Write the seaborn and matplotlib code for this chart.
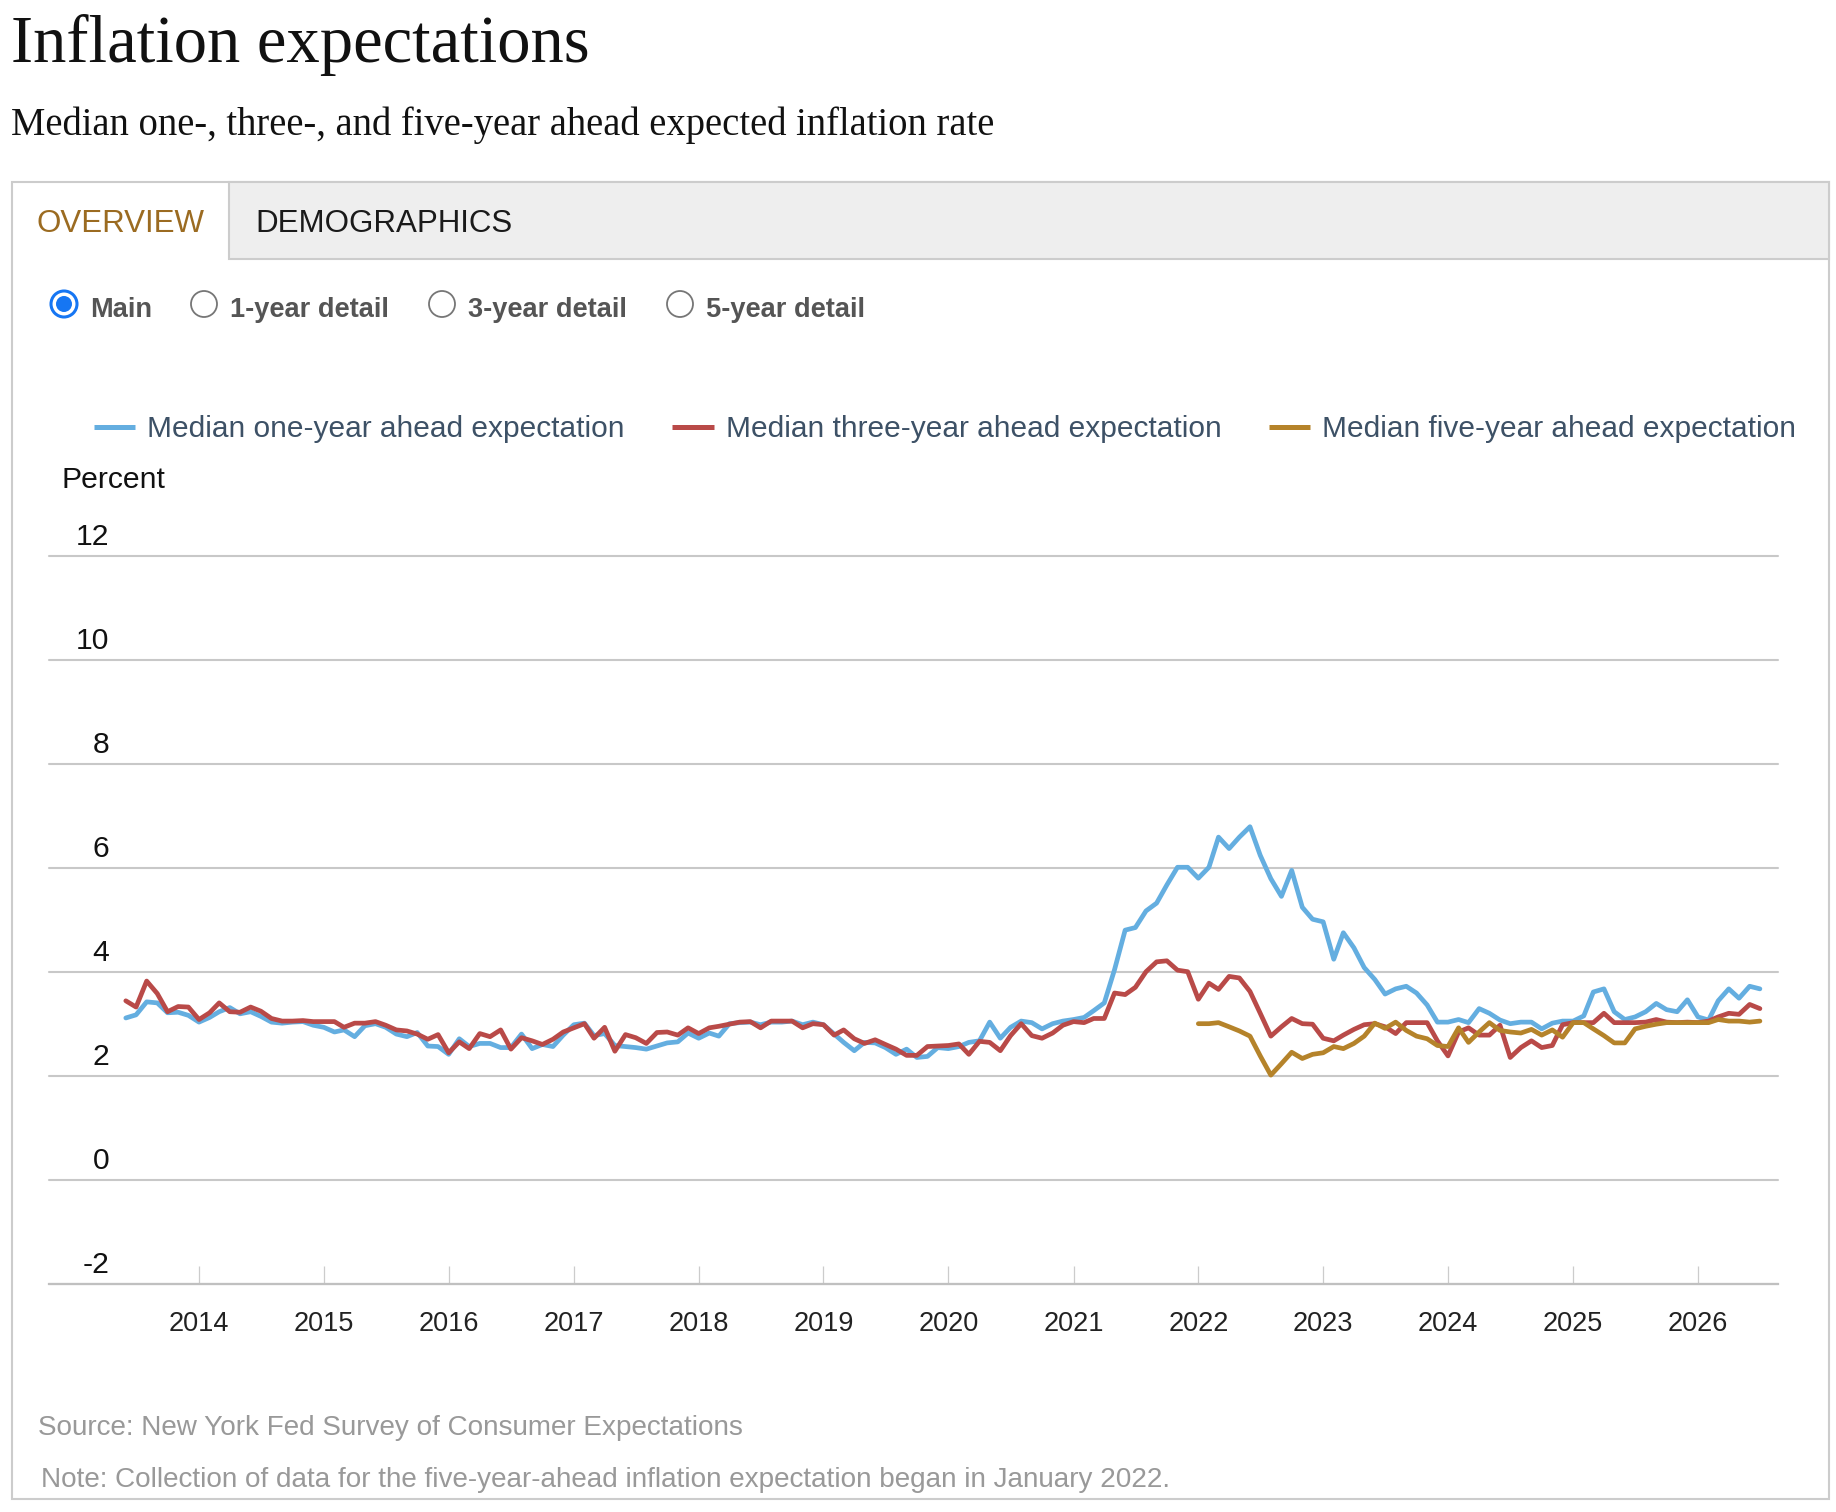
import matplotlib.dates as mdates
import matplotlib.pyplot as plt
import pandas as pd
import seaborn as sns
from matplotlib.patches import Circle, Rectangle

# monthly medians, June 2013 .. July 2026
START_MONTH = "2013-06-01"
one_year = [
    3.11, 3.17, 3.42, 3.40, 3.21, 3.22, 3.16, 3.03, 3.12, 3.23, 3.31, 3.19,
    3.23, 3.14, 3.03, 3.01, 3.03, 3.04, 2.97, 2.93, 2.84, 2.88, 2.75, 2.96,
    3.00, 2.93, 2.80, 2.75, 2.83, 2.57, 2.56, 2.41, 2.71, 2.56, 2.62, 2.62,
    2.54, 2.54, 2.80, 2.52, 2.60, 2.56, 2.78, 2.98, 3.01, 2.77, 2.81, 2.58,
    2.56, 2.54, 2.51, 2.57, 2.63, 2.65, 2.82, 2.72, 2.82, 2.76, 3.00, 3.02,
    3.03, 2.98, 3.03, 3.03, 3.05, 2.98, 3.03, 2.98, 2.80, 2.64, 2.48, 2.64,
    2.63, 2.54, 2.41, 2.51, 2.35, 2.37, 2.54, 2.52, 2.56, 2.64, 2.67, 3.03,
    2.72, 2.93, 3.05, 3.02, 2.90, 3.00, 3.05, 3.08, 3.12, 3.25, 3.40, 4.04,
    4.80, 4.85, 5.17, 5.32, 5.67, 6.01, 6.01, 5.80, 6.01, 6.59, 6.37, 6.59,
    6.79, 6.24, 5.79, 5.45, 5.95, 5.24, 5.01, 4.96, 4.24, 4.75, 4.46, 4.08,
    3.85, 3.57, 3.67, 3.72, 3.59, 3.36, 3.03, 3.03, 3.08, 3.02, 3.29, 3.20,
    3.07, 3.00, 3.03, 3.03, 2.90, 3.01, 3.05, 3.05, 3.15, 3.61, 3.67, 3.23,
    3.08, 3.13, 3.23, 3.39, 3.27, 3.23, 3.46, 3.13, 3.07, 3.44, 3.67, 3.49,
    3.72, 3.67,
]
three_year = [
    3.44, 3.32, 3.82, 3.58, 3.23, 3.33, 3.32, 3.08, 3.21, 3.40, 3.23, 3.22,
    3.32, 3.24, 3.10, 3.05, 3.05, 3.06, 3.04, 3.04, 3.04, 2.93, 3.01, 3.01,
    3.04, 2.97, 2.88, 2.86, 2.80, 2.70, 2.79, 2.44, 2.65, 2.52, 2.81, 2.75,
    2.88, 2.51, 2.73, 2.67, 2.60, 2.70, 2.84, 2.92, 3.00, 2.72, 2.93, 2.47,
    2.79, 2.73, 2.62, 2.83, 2.84, 2.78, 2.92, 2.81, 2.92, 2.95, 2.99, 3.03,
    3.04, 2.92, 3.05, 3.05, 3.05, 2.92, 3.00, 2.98, 2.78, 2.88, 2.71, 2.62,
    2.69, 2.60, 2.51, 2.39, 2.39, 2.56, 2.57, 2.58, 2.61, 2.41, 2.66, 2.64,
    2.48, 2.77, 3.00, 2.77, 2.72, 2.82, 2.97, 3.04, 3.02, 3.10, 3.10, 3.59,
    3.56, 3.70, 4.00, 4.19, 4.21, 4.03, 4.00, 3.47, 3.78, 3.66, 3.91, 3.88,
    3.62, 3.20, 2.76, 2.94, 3.10, 3.00, 2.99, 2.72, 2.67, 2.78, 2.89, 2.98,
    3.00, 2.94, 2.81, 3.02, 3.02, 3.02, 2.67, 2.38, 2.84, 2.92, 2.78, 2.78,
    2.97, 2.35, 2.54, 2.67, 2.54, 2.58, 2.98, 3.02, 3.02, 3.02, 3.20, 3.02,
    3.02, 3.02, 3.03, 3.08, 3.03, 3.02, 3.03, 3.02, 3.05, 3.13, 3.20, 3.18,
    3.37, 3.29,
]
# five-year series starts January 2022
FIVE_START = "2022-01-01"
five_year = [
    3.00, 3.00, 3.02, 2.94, 2.86, 2.76, 2.38, 2.01, 2.23, 2.45, 2.33, 2.41,
    2.44, 2.56, 2.52, 2.62, 2.76, 3.01, 2.91, 3.03, 2.87, 2.76, 2.71, 2.58,
    2.56, 2.92, 2.64, 2.84, 3.02, 2.87, 2.84, 2.82, 2.89, 2.78, 2.88, 2.74,
    3.02, 3.02, 2.90, 2.77, 2.63, 2.63, 2.90, 2.95, 2.99, 3.02, 3.02, 3.02,
    3.02, 3.02, 3.08, 3.05, 3.05, 3.03, 3.05,
]

series_names = [
    "Median one-year ahead expectation",
    "Median three-year ahead expectation",
    "Median five-year ahead expectation",
]
colors = ["#64aee0", "#b94a48", "#b5832a"]
y_ticks = [-2, 0, 2, 4, 6, 8, 10, 12]
x_years = list(range(2014, 2027))
radio_labels = ["Main", "1-year detail", "3-year detail", "5-year detail"]

W, H = 1836, 1512


def main() -> None:
    months = pd.date_range(START_MONTH, periods=len(one_year), freq="MS")
    five_months = pd.date_range(FIVE_START, periods=len(five_year), freq="MS")
    df = pd.concat(
        [
            pd.DataFrame({"date": months, "value": one_year, "series": series_names[0]}),
            pd.DataFrame({"date": months, "value": three_year, "series": series_names[1]}),
            pd.DataFrame({"date": five_months, "value": five_year, "series": series_names[2]}),
        ],
        ignore_index=True,
    )

    sns.set_theme(style="white")
    plt.rcParams["font.family"] = ["Liberation Sans", "DejaVu Sans"]

    fig = plt.figure(figsize=(W / 100, H / 100), dpi=100)

    # page layer in pixel coordinates
    bg = fig.add_axes([0, 0, 1, 1])
    bg.set_xlim(0, W)
    bg.set_ylim(H, 0)
    bg.axis("off")

    serif = ["Liberation Serif", "DejaVu Serif"]
    bg.text(11, 62, "Inflation expectations", family=serif, fontsize=48, color="#111111", va="baseline")
    bg.text(11, 135, "Median one-, three-, and five-year ahead expected inflation rate",
            family=serif, fontsize=27.8, color="#111111", va="baseline")

    bg.add_patch(Rectangle((12, 182), 1817, 1317, fill=False, edgecolor="#cccccc", lw=1.5))
    bg.add_patch(Rectangle((228.5, 182), 1600.5, 77, facecolor="#eeeeee", edgecolor="#cccccc", lw=1.5))
    bg.text(37, 223.5, "OVERVIEW", fontsize=22.5, color="#9b6b21", va="center")
    bg.text(255, 223.5, "DEMOGRAPHICS", fontsize=22.5, color="#1a1a1a", va="center")

    radio_x = [64, 204, 442, 680]
    for i, (rx, label) in enumerate(zip(radio_x, radio_labels)):
        if i == 0:
            bg.add_patch(Circle((rx, 304), 13, facecolor="white", edgecolor="#1676f3", lw=2.2))
            bg.add_patch(Circle((rx, 304), 8, facecolor="#1676f3", edgecolor="none"))
        else:
            bg.add_patch(Circle((rx, 304), 13, facecolor="white", edgecolor="#767676", lw=1.3))
        bg.text(rx + 26.5, 317, label, fontsize=19.6, fontweight="bold", color="#555555", va="baseline")

    bg.text(62, 488, "Percent", fontsize=21.7, color="#111111", va="baseline")
    bg.text(37.5, 1435, "Source: New York Fed Survey of Consumer Expectations",
            fontsize=20.1, color="#999999", va="baseline")
    bg.text(41, 1487, "Note: Collection of data for the five-year-ahead inflation expectation began in January 2022.",
            fontsize=20.1, color="#999999", va="baseline")

    # chart
    ax = fig.add_axes([49 / W, 1 - 1283.5 / H, 1728.5 / W, 727.5 / H])
    ax.patch.set_alpha(0)
    sns.lineplot(
        data=df, x="date", y="value", hue="series", hue_order=series_names,
        palette=colors, estimator=None, linewidth=3.4, ax=ax,
    )
    for line in ax.lines:
        line.set_solid_joinstyle("round")
        line.set_solid_capstyle("round")

    x0 = mdates.date2num(pd.Timestamp("2014-01-01"))
    x1 = mdates.date2num(pd.Timestamp("2026-01-01"))
    ppd = (1698 - 199) / (x1 - x0)
    ax.set_xlim(x0 - (199 - 49) / ppd, x1 + (1777.5 - 1698) / ppd)
    ax.set_ylim(-2, 12)

    ax.set_xticks([mdates.date2num(pd.Timestamp(f"{y}-01-01")) for y in x_years])
    ax.set_xticklabels([str(y) for y in x_years])
    ax.tick_params(axis="x", direction="in", length=13, width=0.9, color="#cccccc",
                   pad=19.5, labelsize=19.5, labelcolor="#222222", bottom=True)

    ax.set_yticks(y_ticks)
    ax.tick_params(axis="y", length=0, labelleft=False)
    ax.grid(axis="y", color="#c8c8c8", lw=1.5)
    ax.grid(axis="x", visible=False)
    for gl in ax.get_ygridlines():
        gl.set_clip_on(False)
    for v in y_ticks:
        ax.annotate(str(v), xy=(0, v), xycoords=("axes fraction", "data"),
                    xytext=(43.2, 13.6), textcoords="offset points",
                    ha="right", va="center", fontsize=21.7, color="#111111")

    for side in ["top", "right", "left"]:
        ax.spines[side].set_visible(False)
    ax.spines["bottom"].set_color("#c0c0c0")
    ax.spines["bottom"].set_linewidth(1.6)
    ax.set_xlabel("")
    ax.set_ylabel("")

    handles, labels = ax.get_legend_handles_labels()
    leg = ax.legend(
        handles, labels, loc="center left", bbox_to_anchor=(94 / W, 1 - 429 / H),
        bbox_transform=fig.transFigure, ncol=3, frameon=False, fontsize=21.5,
        handlelength=1.38, handletextpad=0.4, columnspacing=1.6,
        borderpad=0, borderaxespad=0, labelcolor="#3d5166",
    )
    for h in leg.get_lines():
        h.set_linewidth(3.6)
        h.set_solid_capstyle("butt")

    plt.savefig("out.png", dpi=100)
    plt.close()


if __name__ == "__main__":
    main()
